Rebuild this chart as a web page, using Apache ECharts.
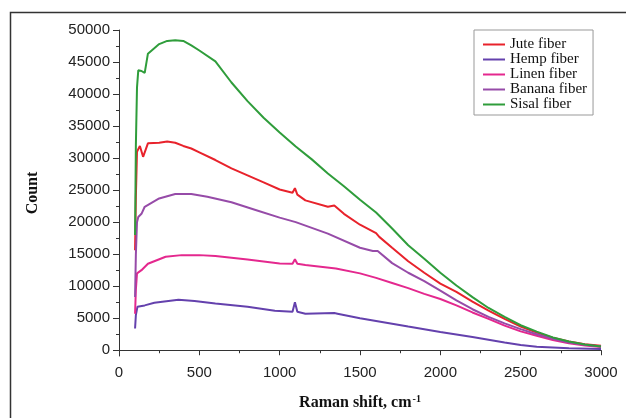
<!DOCTYPE html>
<html>
<head>
<meta charset="UTF-8">
<title>Raman spectra</title>
<script src="https://cdn.jsdelivr.net/npm/echarts@6/dist/echarts.min.js"></script>
</head>
<body style="margin:0">
<div id="main" style="width:626px;height:418px"></div>
<script>
// values
var names = ['Jute fiber', 'Hemp fiber', 'Linen fiber', 'Banana fiber', 'Sisal fiber'];
var colors = ['#e8222b', '#6441ad', '#e4288e', '#964ba8', '#2f9d3b'];

var juteX = [100,105,112,130,150,180,250,300,350,400,450,500,600,700,800,900,1000,1080,1095,1110,1160,1300,1340,1400,1500,1600,1620,1700,1800,1900,2000,2100,2200,2300,2400,2500,2600,2700,2800,2900,3000];
var juteY = [15600,24000,31000,31900,30200,32300,32400,32600,32400,31900,31500,30900,29700,28400,27300,26200,25100,24600,25300,24300,23400,22400,22600,21300,19600,18300,17700,16000,13900,12100,10400,9100,7600,6200,4900,3700,2750,1950,1350,950,700];

var hempX = [100,105,115,160,220,370,470,600,800,970,1080,1095,1110,1160,1340,1360,1500,1800,2000,2200,2400,2500,2600,2800,3000];
var hempY = [3400,5500,6800,7000,7400,7900,7700,7300,6800,6150,6000,7500,6000,5700,5800,5700,5000,3700,2850,2050,1200,800,550,300,200];

var linenX = [100,105,112,120,140,180,290,390,500,600,800,1000,1080,1095,1110,1160,1350,1500,1600,1700,1800,1900,2000,2100,2200,2300,2400,2500,2600,2700,2800,2900,3000];
var linenY = [5700,9500,12000,12250,12500,13500,14600,14850,14850,14700,14150,13550,13500,14200,13500,13300,12750,12000,11300,10500,9700,8800,8000,7000,5900,4900,3850,2950,2250,1600,1100,750,500];

var bananaX = [100,105,112,120,140,160,250,350,450,550,700,850,1000,1100,1300,1500,1580,1610,1700,1800,1900,2000,2100,2200,2300,2400,2500,2600,2700,2800,2900,3000];
var bananaY = [8300,15000,20000,20800,21300,22400,23700,24400,24400,23950,23100,21900,20700,20000,18200,16000,15500,15500,13600,12100,10800,9300,7800,6400,5200,4200,3300,2500,1800,1200,850,600];

var sisalX = [100,105,112,120,140,160,180,250,300,350,400,450,500,600,700,800,900,1000,1100,1200,1300,1400,1500,1600,1700,1800,1900,2000,2100,2200,2300,2400,2500,2600,2700,2800,2900,3000];
var sisalY = [18000,32000,41000,43700,43600,43300,46300,47800,48300,48400,48300,47600,46800,45100,41800,38900,36300,34000,31800,29800,27600,25600,23500,21500,19000,16400,14300,12100,10100,8300,6600,5200,3900,2900,2000,1350,900,600];

var yMajor = [0,5000,10000,15000,20000,25000,30000,35000,40000,45000,50000];
var yMinor = [2500,7500,12500,17500,22500,27500,32500,37500,42500,47500];

function pairs(xs, ys) {
    var out = [];
    for (var i = 0; i < xs.length; i++) { out.push([xs[i], ys[i]]); }
    return out;
}
function plain(v) { return String(v); }

var allX = [juteX, hempX, linenX, bananaX, sisalX];
var allY = [juteY, hempY, linenY, bananaY, sisalY];

var series = [];
for (var i = 0; i < names.length; i++) {
    series.push({
        name: names[i],
        type: 'line',
        showSymbol: false,
        symbol: 'none',
        data: pairs(allX[i], allY[i]),
        lineStyle: { color: colors[i], width: 2 },
        itemStyle: { color: colors[i] }
    });
}

var myChart = echarts.init(document.getElementById('main'));
var option = {
    animation: false,
    backgroundColor: '#fff',
    grid: { left: 119, right: 25, top: 30, bottom: 62 },
    graphic: [{
        type: 'rect',
        shape: { x: 10.5, y: 12.5, width: 700, height: 500 },
        style: { fill: 'none', stroke: '#333', lineWidth: 1.5 },
        silent: true
    }],
    legend: {
        orient: 'vertical',
        left: 474,
        top: 30,
        padding: [7, 6, 3, 9],
        itemGap: 0,
        itemWidth: 22,
        itemHeight: 2,
        icon: 'rect',
        borderColor: '#999',
        borderWidth: 1,
        textStyle: { fontFamily: 'Liberation Serif', fontSize: 15, color: '#111', lineHeight: 14.5 },
        data: names
    },
    xAxis: {
        type: 'value',
        min: 0, max: 3000, interval: 500,
        name: '{a|Raman shift, cm}{b|-1}',
        nameLocation: 'middle',
        nameGap: 38,
        nameTextStyle: {
            rich: {
                a: { fontFamily: 'Liberation Serif', fontWeight: 'bold', fontSize: 16, color: '#111' },
                b: { fontFamily: 'Liberation Serif', fontWeight: 'bold', fontSize: 10, color: '#111', padding: [0, 0, 8, 1] }
            }
        },
        axisLine: { lineStyle: { color: '#333', width: 1 } },
        axisTick: { length: 5, lineStyle: { color: '#333' } },
        minorTick: { show: true, splitNumber: 2, length: 3, lineStyle: { color: '#333' } },
        axisLabel: { formatter: plain, fontFamily: 'Liberation Sans', fontSize: 15, color: '#222', margin: 9 },
        splitLine: { show: false }
    },
    yAxis: [{
        type: 'value',
        min: -900, max: 50000,
        name: 'Count',
        nameLocation: 'middle',
        nameGap: 78,
        nameTextStyle: { fontFamily: 'Liberation Serif', fontWeight: 'bold', fontSize: 16, color: '#111' },
        axisLine: { show: true, lineStyle: { color: '#333', width: 1 } },
        axisTick: { show: true, length: 6, customValues: yMajor, lineStyle: { color: '#333' } },
        axisLabel: { customValues: yMajor, formatter: plain, fontFamily: 'Liberation Sans', fontSize: 15, color: '#222', margin: 9 },
        splitLine: { show: false }
    }, {
        type: 'value',
        min: -900, max: 50000,
        position: 'left',
        axisLine: { show: false },
        axisTick: { show: true, length: 3, customValues: yMinor, lineStyle: { color: '#333' } },
        axisLabel: { show: false },
        splitLine: { show: false }
    }],
    series: series
};
myChart.setOption(option);
</script>
</body>
</html>
